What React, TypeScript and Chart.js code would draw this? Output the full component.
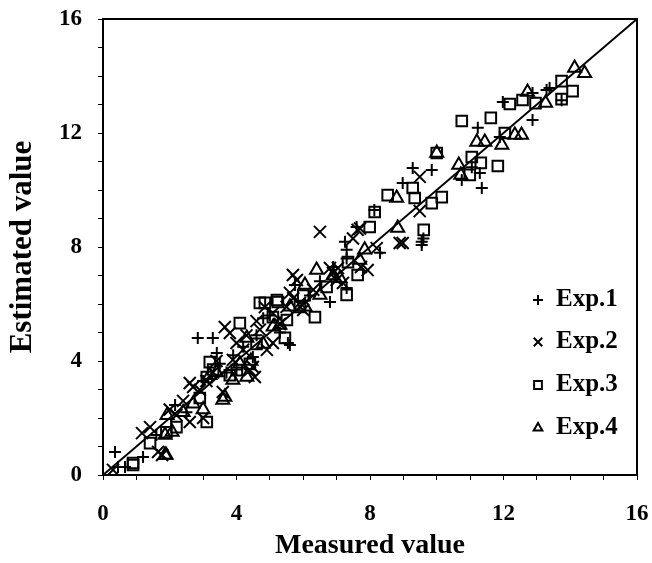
import React, { useEffect, useRef } from "react";
import { Chart, registerables } from "chart.js";
import { drawPoint } from "chart.js/helpers";

Chart.register(...registerables);

const exp1X = [0.36,0.45,0.66,1.2,2.16,2.84,3.29,3.41,4.49,3.7,4.2,2.5,5.6,5.54,5.75,6.8,7.3,7.25,7.3,7.3,7.6,8.13,8.98,9.28,9.85,9.55,9.6,9.55,10.75,11.29,11.35,11.05,11.23,11.89,11.98,12.87,12.87,13.29,13.38,13.74,5.0,4.6,6.2,3.0,1.6,5.3,6.5,8.3,3.9,4.0,4.8,3.5,6.9];
const exp1Y = [0.81,0.28,0.28,0.63,2.46,4.81,4.81,4.28,4.14,3.6,4.5,2.2,4.56,4.63,6.67,6.07,6.56,8.18,7.9,7.6,8.7,9.3,10.25,10.77,10.7,8.07,8.3,8.18,10.35,10.6,10.07,10.8,12.18,11.86,13.09,13.4,12.46,13.51,13.58,13.15,5.6,4.9,6.3,3.3,1.4,5.0,6.8,7.8,4.2,3.7,5.5,3.9,7.3];

const exp2X = [0.3,1.17,1.41,1.65,1.77,2.6,2.6,2.7,2.9,3.0,3.59,3.65,3.8,3.89,4.0,4.4,4.55,4.49,4.91,5.09,4.85,5.09,5.6,5.9,5.69,5.81,6.0,6.5,6.8,7.04,7.0,7.19,6.89,7.49,7.63,7.7,7.93,7.73,8.2,8.89,8.98,9.49,9.49,3.3,2.2,4.3,5.3,6.3,3.4,4.7,2.0,4.2,4.6,5.5,3.1,2.4,5.7];
const exp2Y = [0.18,1.47,1.68,0.81,0.7,1.86,3.23,3.09,2.98,2.0,2.91,5.19,4.98,4.04,4.63,3.68,3.44,3.79,4.39,4.63,5.89,5.68,6.39,6.04,7.02,6.84,5.79,8.53,7.26,7.26,6.84,6.74,7.09,8.3,8.6,8.65,7.19,7.3,7.96,8.14,8.14,9.26,10.46,3.6,2.1,4.9,5.3,6.5,4.0,5.1,2.3,4.4,5.4,5.9,3.3,2.6,6.2];

const exp3X = [0.9,0.9,1.41,2.2,3.11,3.2,3.11,4.1,4.01,4.4,4.7,5.21,5.45,5.09,5.51,6.35,6.0,7.3,7.34,7.63,7.99,8.14,8.53,9.28,9.34,9.85,10.15,9.61,10.0,10.75,11.62,11.05,11.32,11.83,10.99,12.04,12.19,12.57,12.96,13.74,14.07,13.74,4.85,5.24,2.9,3.8,6.7,1.9,4.6,3.3,5.9];
const exp3Y = [0.35,0.42,1.12,1.68,1.86,3.96,3.44,5.33,3.68,3.9,6.04,6.14,4.81,5.54,5.44,5.54,6.3,6.32,7.47,7.02,8.7,9.23,9.82,10.07,9.72,9.54,9.75,8.6,11.3,12.42,12.53,11.16,10.95,10.84,10.53,12.0,13.02,13.16,13.05,13.82,13.47,13.19,6.04,6.07,2.7,3.5,6.6,1.5,4.6,3.7,5.9];

const exp4X = [1.86,1.89,1.86,2.07,1.92,3.59,3.65,3.89,4.31,4.43,4.31,5.3,6.05,6.05,6.4,6.5,7.69,7.84,8.83,8.8,10.0,10.66,10.72,11.2,11.44,11.95,12.34,12.54,12.72,13.26,14.13,14.43,2.7,3.0,4.8,5.6,7.1,3.4,2.4,6.9,4.1,5.1,3.2];
const exp4Y = [0.7,0.7,1.4,1.51,2.1,2.63,2.74,3.33,3.44,4.0,4.81,5.26,5.9,6.67,7.19,6.32,7.54,7.9,8.67,9.72,11.3,10.88,10.53,11.68,11.68,11.58,11.93,11.93,13.44,13.05,14.28,14.1,2.5,2.3,4.6,5.9,6.9,3.6,2.2,7.0,3.9,5.2,3.5];

const lineX = [0, 16];
const lineY = [0, 16];

const legendLabels = ["Exp.1", "Exp.2", "Exp.3", "Exp.4"];
const tickLabels = [0, 4, 8, 12, 16];

const toPts = (xs: number[], ys: number[]) => xs.map((x, i) => ({ x, y: ys[i] }));

const FONT = "'Liberation Serif', 'Times New Roman', serif";

export default function App() {
  const ref = useRef<HTMLCanvasElement>(null);
  useEffect(() => {
    document.body.style.margin = "0";
    const styles = ["cross", "crossRot", "rect", "triangle"];
    const radii = [6, 8.5, 7.5, 7.5];
    const sets = [
      toPts(exp1X, exp1Y),
      toPts(exp2X, exp2Y),
      toPts(exp3X, exp3Y),
      toPts(exp4X, exp4Y),
    ];
    const datasets: any[] = sets.map((d, i) => ({
      type: "scatter",
      label: legendLabels[i],
      data: d,
      pointStyle: styles[i],
      pointRadius: radii[i],
      borderColor: "#000",
      backgroundColor: "rgba(0,0,0,0)",
      pointBorderWidth: 2,
      showLine: false,
    }));
    datasets.push({
      type: "line",
      label: "diag",
      data: toPts(lineX, lineY),
      borderColor: "#000",
      borderWidth: 2,
      pointRadius: 0,
      fill: false,
    });

    const boxLegend = {
      id: "boxLegend",
      afterDatasetsDraw(chart: any) {
        const { ctx, chartArea: a } = chart;
        ctx.save();
        ctx.strokeStyle = "#000";
        ctx.lineWidth = 2;
        ctx.strokeRect(a.left, a.top, a.right - a.left, a.bottom - a.top);
        const ys = [300, 342, 385, 428];
        const lr = [5, 6, 5.5, 5];
        legendLabels.forEach((lab, i) => {
          ctx.strokeStyle = "#000";
          ctx.fillStyle = "rgba(0,0,0,0)";
          ctx.lineWidth = 2;
          drawPoint(ctx, { pointStyle: styles[i], radius: lr[i], borderWidth: 2 } as any, 538, ys[i]);
          ctx.fillStyle = "#000";
          ctx.font = `bold 25px ${FONT}`;
          ctx.textAlign = "left";
          ctx.textBaseline = "middle";
          ctx.fillText(lab, 556, ys[i]);
        });
        ctx.restore();
      },
    };

    const tickCb = (v: any) => (tickLabels.includes(Number(v)) ? String(v) : "");
    const chart = new Chart(ref.current!, {
      type: "scatter",
      data: { datasets },
      options: {
        animation: false,
        responsive: false,
        layout: { padding: { left: 0, right: 15, top: 19, bottom: 0 } },
        plugins: { legend: { display: false }, tooltip: { enabled: false } },
        scales: {
          x: {
            type: "linear",
            min: 0,
            max: 16,
            ticks: {
              stepSize: 1,
              autoSkip: false,
              maxRotation: 0,
              callback: tickCb,
              color: "#000",
              font: { family: FONT, size: 23, weight: "bold" },
              padding: 20,
            },
            grid: { drawOnChartArea: false, drawTicks: true, tickLength: 5, color: "#000", lineWidth: 1 },
            border: { color: "#000", width: 2 },
            title: {
              display: true,
              text: "Measured value",
              color: "#000",
              font: { family: FONT, size: 28, weight: "bold" },
              padding: { top: 0, bottom: 0 },
            },
            afterFit: (s: any) => { s.height = 88; s.paddingLeft = 0; s.paddingRight = 0; },
          },
          y: {
            type: "linear",
            min: 0,
            max: 16,
            ticks: {
              stepSize: 1,
              autoSkip: false,
              callback: tickCb,
              color: "#000",
              font: { family: FONT, size: 23, weight: "bold" },
              padding: 16,
            },
            grid: { drawOnChartArea: false, drawTicks: true, tickLength: 5, color: "#000", lineWidth: 1 },
            border: { color: "#000", width: 2 },
            title: {
              display: true,
              text: "Estimated value",
              color: "#000",
              font: { family: FONT, size: 31, weight: "bold" },
              padding: { top: 4, bottom: 10 },
            },
            afterFit: (s: any) => { s.width = 103; s.paddingTop = 0; s.paddingBottom = 0; },
          },
        },
      } as any,
      plugins: [boxLegend],
    });
    return () => chart.destroy();
  }, []);
  return (
    <div style={{ width: 652, height: 563, background: "#fff" }}>
      <canvas ref={ref} width={652} height={563} style={{ display: "block" }} />
    </div>
  );
}
